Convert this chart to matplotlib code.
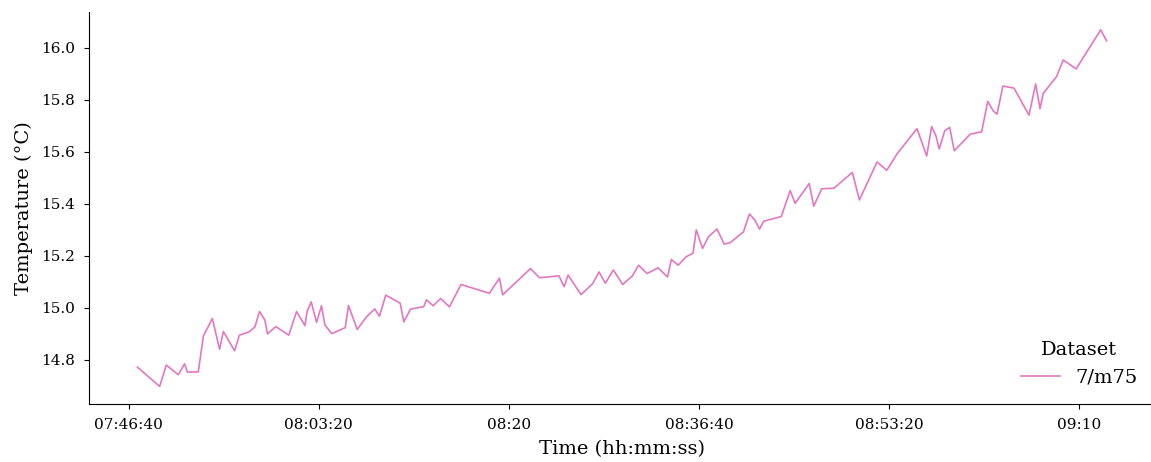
import numpy as np
import matplotlib
matplotlib.use("Agg")
import matplotlib.pyplot as plt
from matplotlib.ticker import FuncFormatter

plt.rcParams.update({'font.family': "DejaVu Serif"})

# время в секундах от начала суток, температура
t_sec = [28046, 28163, 28198, 28261, 28294, 28309, 28366, 28393, 28440, 28478,
         28498, 28557, 28582, 28634, 28664, 28688, 28716, 28730, 28774, 28842,
         28883, 28927, 28939, 28960, 28988, 29014, 29032, 29068, 29139, 29156,
         29202, 29249, 29294, 29319, 29352, 29428, 29447, 29482, 29552, 29566,
         29601, 29641, 29687, 29748, 29897, 29950, 29967, 30113, 30161, 30263,
         30290, 30311, 30379, 30440, 30474, 30507, 30549, 30598, 30649, 30682,
         30726, 30784, 30834, 30854, 30890, 30931, 30968, 30985, 31018, 31050,
         31094, 31132, 31164, 31233, 31265, 31293, 31318, 31339, 31432, 31479,
         31505, 31579, 31603, 31645, 31709, 31806, 31843, 31936, 31987, 32043,
         32146, 32197, 32223, 32246, 32263, 32292, 32318, 32342, 32426, 32486,
         32518, 32546, 32567, 32598, 32656, 32735, 32770, 32793, 32810, 32880,
         32915, 32983, 33112, 33143]
temp = [14.772, 14.698, 14.780, 14.743, 14.785, 14.753, 14.754, 14.892, 14.959, 14.841,
        14.909, 14.835, 14.895, 14.908, 14.927, 14.986, 14.954, 14.900, 14.928, 14.895,
        14.986, 14.932, 14.988, 15.023, 14.944, 15.008, 14.934, 14.901, 14.924, 15.009,
        14.917, 14.964, 14.996, 14.968, 15.049, 15.018, 14.946, 14.995, 15.005, 15.031,
        15.008, 15.036, 15.004, 15.090, 15.056, 15.114, 15.050, 15.151, 15.116, 15.123,
        15.082, 15.126, 15.051, 15.093, 15.138, 15.095, 15.146, 15.090, 15.123, 15.164,
        15.132, 15.154, 15.119, 15.186, 15.164, 15.196, 15.210, 15.300, 15.229, 15.274,
        15.303, 15.245, 15.251, 15.292, 15.361, 15.338, 15.303, 15.333, 15.351, 15.451,
        15.402, 15.478, 15.391, 15.458, 15.460, 15.521, 15.415, 15.561, 15.529, 15.594,
        15.689, 15.584, 15.697, 15.661, 15.611, 15.681, 15.694, 15.604, 15.668, 15.677,
        15.794, 15.758, 15.745, 15.853, 15.845, 15.741, 15.861, 15.766, 15.825, 15.889,
        15.953, 15.919, 16.069, 16.027]
label = '7/m75'


def hms(x, pos=None):  # секунды -> чч:мм:сс
    x = int(round(x))
    h, m, s = x // 3600, (x % 3600) // 60, x % 60
    if s == 0:
        return f'{h:02d}:{m:02d}'
    return f'{h:02d}:{m:02d}:{s:02d}'


fig, ax = plt.subplots(figsize=(11.51, 4.62), dpi=100)
fig.subplots_adjust(left=0.0773, right=1.0035, bottom=0.125, top=0.974)
ax.plot(t_sec, temp, color='#e377c2', lw=1.2, label=label)
ax.xaxis.set_major_formatter(FuncFormatter(hms))
ax.set_xlabel('Time (hh:mm:ss)', fontsize=14, labelpad=6)
ax.set_ylabel('Temperature (°C)', fontsize=14, labelpad=6)
ax.tick_params(labelsize=11, pad=6.5)
for side in ['top', 'right']:
    ax.spines[side].set_visible(False)
ax.legend(loc='lower right', frameon=False, title='Dataset',
          fontsize=14, title_fontsize=14)
fig.savefig('out.png', dpi=100)
